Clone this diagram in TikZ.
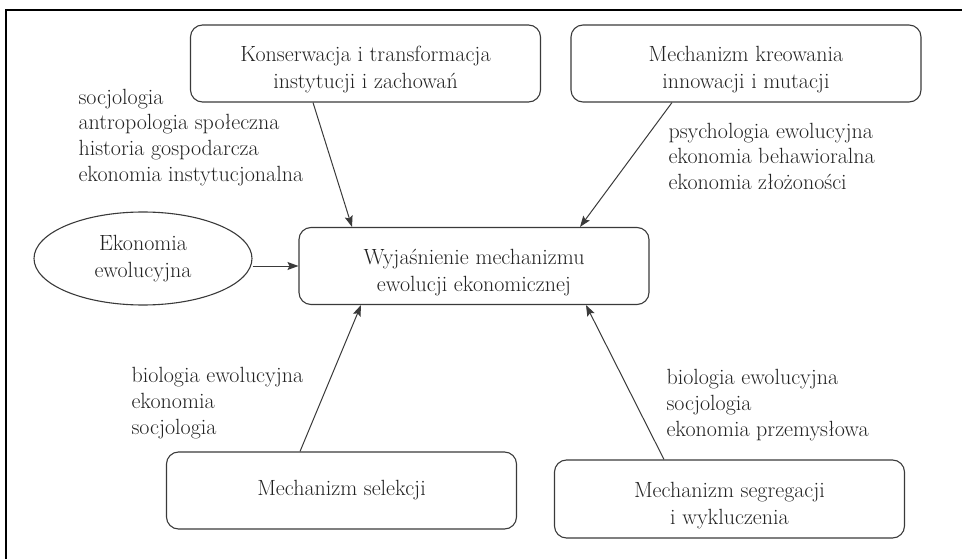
\documentclass[tikz,border=0pt]{standalone}
\usepackage{fontspec}
\usetikzlibrary{arrows.meta, positioning, shapes.geometric}
\definecolor{cink}{HTML}{222222}
\definecolor{cline}{HTML}{3A3A3A}
\newcommand{\hstrut}{\rule{0pt}{28pt}}
\tikzset{
  every picture/.style={font=\fontsize{22}{27}\selectfont, line width=1.1pt},
  box/.style={draw=cline, rounded corners=12pt, align=center, text=cink, minimum width=350pt, minimum height=77pt, inner sep=0pt},
  oval/.style={draw=cline, ellipse, align=center, text=cink, minimum width=218pt, minimum height=93pt, inner sep=0pt},
  arrow/.style={-{Stealth[length=11pt, width=8pt, inset=2pt]}, draw=cline, line width=1pt},
  note/.style={align=left, text=cink, anchor=north west, inner sep=0pt, font=\fontsize{22}{25.8}\selectfont},
  frame/.style={draw=black, line width=2pt},
}

\begin{document}
\begin{tikzpicture}[x=1pt, y=-1pt]
  \useasboundingbox (0,0) rectangle (962,559);
  \draw[frame] (962,10) -| (6,559);
  \node[box] (wyj) at (474,266) {\hstrut Wyjaśnienie mechanizmu\\ewolucji ekonomicznej};
  \node[box] (kons) at (365.5,63.5) {\hstrut Konserwacja i transformacja\\instytucji i zachowań};
  \node[box] (kreow) at (746,63.5) {\hstrut Mechanizm kreowania\\innowacji i mutacji};
  \node[oval] (ekon) at (143,258.5) {Ekonomia\\ewolucyjna};
  \node[box] (selek) at (341.5,490.5) {Mechanizm selekcji};
  \node[box, minimum height=78pt] (segr) at (729.5,499) {\hstrut Mechanizm segregacji\\i wykluczenia};
  % dyscypliny przy strzalkach
  \node[note] (dkons) at (78,88.2) {socjologia\\antropologia społeczna\\historia gospodarcza\\ekonomia instytucjonalna};
  \node[note] (dkreow) at (668,122.2) {psychologia ewolucyjna\\ekonomia behawioralna\\ekonomia złożoności};
  \node[note] (dselek) at (131,366.7) {biologia ewolucyjna\\ekonomia\\socjologia};
  \node[note] (dsegr) at (666,368.7) {biologia ewolucyjna\\socjologia\\ekonomia przemysłowa};
  \draw[arrow] ([xshift=-52.5pt]kons.south) -- ([xshift=-122pt]wyj.north);
  \draw[arrow] ([xshift=-74pt]kreow.south) -- ([xshift=106pt]wyj.north);
  \draw[arrow] (ekon.east |- wyj.west) -- (wyj.west);
  \draw[arrow] ([xshift=-41.5pt]selek.north) -- ([xshift=-113pt]wyj.south);
  \draw[arrow] ([xshift=-65.5pt]segr.north) -- ([xshift=112pt]wyj.south);
\end{tikzpicture}
\end{document}
